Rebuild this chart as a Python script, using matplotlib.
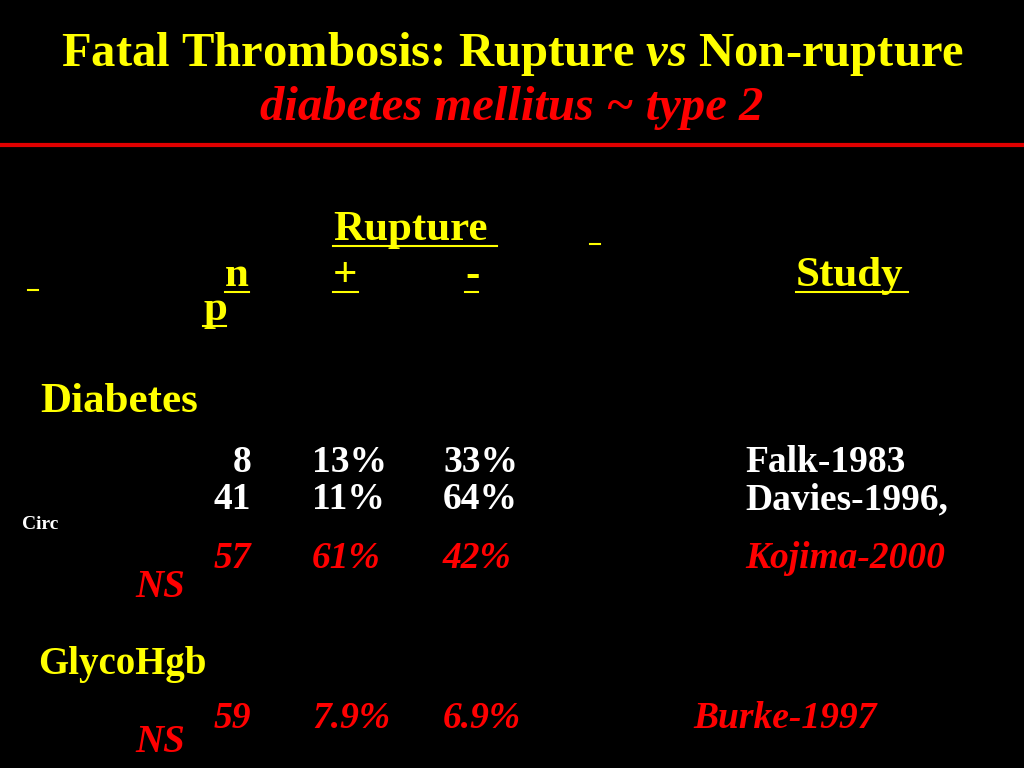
import matplotlib
matplotlib.use("Agg")
import matplotlib.pyplot as plt

plt.rcParams["mathtext.fontset"] = "custom"
plt.rcParams["mathtext.bfit"] = "Liberation Serif:italic:bold"
plt.rcParams["mathtext.bf"] = "Liberation Serif:bold"

# table data
groups = ["Diabetes", "GlycoHgb"]
n_vals = ["8", "41", "57", "59"]
rupture_pos = ["13%", "11%", "61%", "7.9%"]
rupture_neg = ["33%", "64%", "42%", "6.9%"]
studies = ["Falk-1983", "Davies-1996,", "Kojima-2000", "Burke-1997"]
row_red = [False, False, True, True]
row_y = [460, 497, 556, 716]
study_x = [745, 745, 745, 693]

YEL = "#ffff00"
RED = "#ff0000"
serif = "Liberation Serif"

fig = plt.figure(figsize=(10.24, 7.68), dpi=100, facecolor="black")
ax = fig.add_axes([0, 0, 1, 1])
ax.set_xlim(0, 1024)
ax.set_ylim(768, 0)
ax.axis("off")
ax.set_facecolor("black")

def t(x, y, s, c, size, ha="left", style="normal", weight="bold"):
    ax.text(x, y, s, color=c, fontsize=size, ha=ha, va="baseline",
            family=serif, weight=weight, style=style)

# title
ax.text(512, 66, "Fatal Thrombosis: Rupture $\\mathbfit{vs}$ Non-rupture", color=YEL,
        fontsize=35, ha="center", va="baseline", family=serif, weight="bold")
t(512, 120, "diabetes mellitus ~ type 2", RED, 35, ha="center", style="italic")
ax.plot([0, 1024], [145, 145], color="#e00000", lw=3)

# header
def ul(x0, x1, y):
    ax.plot([x0, x1], [y, y], color=YEL, lw=1.5)

HS = 31
t(333, 240, "Rupture", YEL, HS); ul(333, 497, 246)
t(249, 286, "n", YEL, HS, ha="right"); ul(225, 249, 292)
t(203, 320, "p", YEL, HS); ul(203, 226, 326)
t(333, 286, "+", YEL, HS); ul(333, 358, 292)
t(465, 286, "-", YEL, HS); ul(465, 478, 292)
t(796, 286, "Study", YEL, HS); ul(796, 908, 292)
ul(28, 38, 290); ul(590, 600, 244)

# groups
t(40, 412, groups[0], YEL, HS)
t(38, 674, groups[1], YEL, 28)
t(22, 529, "Circ", "white", 14)
t(135, 597, "NS", RED, 28, style="italic")
t(135, 752, "NS", RED, 28, style="italic")

for i in range(len(n_vals)):
    c = RED if row_red[i] else "white"
    st = "italic" if row_red[i] else "normal"
    y = row_y[i]
    t(251, y + 12, n_vals[i], c, 27, ha="right", style=st)
    t(312, y + 12, rupture_pos[i], c, 27, style=st)
    t(443, y + 12, rupture_neg[i], c, 27, style=st)
    t(study_x[i], y + 12, studies[i], c, 27, style=st)

fig.savefig("out.png", dpi=100, facecolor="black")
